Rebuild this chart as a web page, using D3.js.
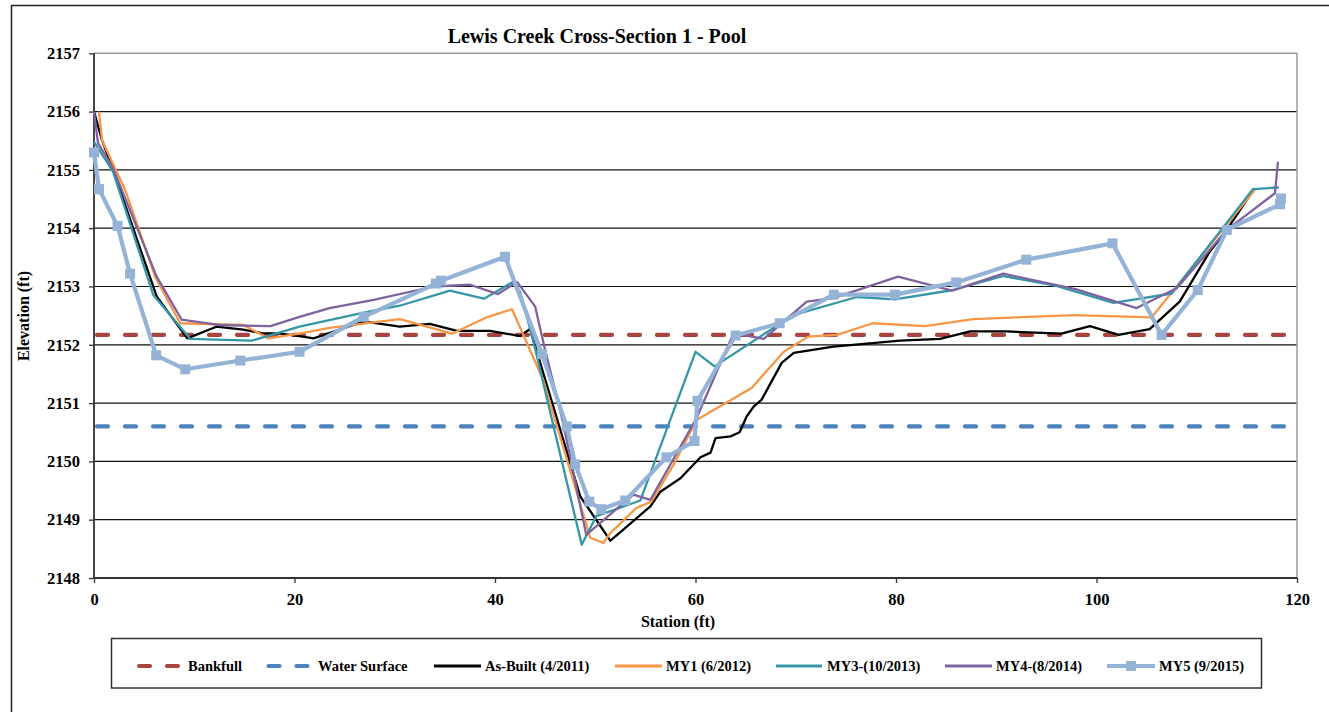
<!DOCTYPE html>
<html>
<head>
<meta charset="utf-8">
<script src="https://cdn.jsdelivr.net/npm/d3@7"></script>
<style>
  html, body { margin: 0; padding: 0; background: #fff; }
  svg { display: block; }
  text { font-family: "Liberation Serif", "Times New Roman", serif; font-weight: bold; fill: #000; }
</style>
</head>
<body>
<svg id="chart" width="1329" height="712"></svg>
<script>
// Survey of Lewis Creek Cross-Section 1 (pool), station vs elevation in feet
const titleText = "Lewis Creek Cross-Section 1 - Pool";
const xTicks = [0, 20, 40, 60, 80, 100, 120];
const yTicks = [2148, 2149, 2150, 2151, 2152, 2153, 2154, 2155, 2156, 2157];

const bankfullElev = 2152.17;
const waterSurfaceElev = 2150.60;

const asBuiltStation = [0, 0.8, 1.9, 6.25, 9.3, 12.2, 14.9, 16.7, 18.6, 20.5, 21.9, 26.9, 30.5, 33.5, 36.2, 39.5, 42.5, 43.5, 48.5, 49.3, 51.5, 52.6, 55.5, 56.5, 58.5, 60.5, 61.5, 62.0, 63.5, 64.4, 65.1, 65.8, 66.6, 68.6, 69.8, 73.75, 77.1, 80.4, 84.4, 87.4, 91.0, 96.5, 99.35, 102.2, 105.3, 108.3, 111.3, 113.0, 115.5];
const asBuiltElev = [2156.0, 2155.51, 2155.0, 2152.83, 2152.11, 2152.31, 2152.26, 2152.2, 2152.19, 2152.15, 2152.11, 2152.4, 2152.31, 2152.36, 2152.24, 2152.24, 2152.15, 2152.27, 2149.4, 2149.2, 2148.64, 2148.8, 2149.23, 2149.48, 2149.71, 2150.07, 2150.15, 2150.4, 2150.43, 2150.5, 2150.77, 2150.94, 2151.06, 2151.69, 2151.86, 2151.97, 2152.02, 2152.07, 2152.1, 2152.23, 2152.23, 2152.19, 2152.32, 2152.17, 2152.27, 2152.74, 2153.6, 2153.97, 2154.62];

const my1Station = [0.5, 0.8, 3.1, 6.1, 8.6, 14.9, 17.4, 20.5, 23.5, 30.5, 35.7, 39.3, 41.7, 44.8, 49.5, 50.8, 51.5, 54.1, 55.6, 57.8, 60.1, 65.6, 68.8, 71.25, 74.1, 77.7, 82.9, 87.7, 97.7, 105.5, 115.8];
const my1Elev = [2156.0, 2155.51, 2154.66, 2153.17, 2152.37, 2152.34, 2152.11, 2152.19, 2152.29, 2152.44, 2152.19, 2152.48, 2152.61, 2151.4, 2148.69, 2148.6, 2148.77, 2149.2, 2149.31, 2149.94, 2150.71, 2151.26, 2151.88, 2152.14, 2152.17, 2152.37, 2152.32, 2152.44, 2152.51, 2152.47, 2154.66];

const my3Station = [0, 1.9, 5.9, 9.6, 15.7, 20.5, 26.9, 30.5, 35.5, 38.9, 41.8, 42.5, 43.8, 48.65, 50.1, 54.5, 60.0, 61.9, 69.75, 76.1, 79.9, 85.7, 90.7, 96.0, 101.7, 107.5, 115.6, 118.2];
const my3Elev = [2155.48, 2154.97, 2152.86, 2152.1, 2152.07, 2152.31, 2152.55, 2152.67, 2152.93, 2152.79, 2153.08, 2152.91, 2152.08, 2148.57, 2149.06, 2149.33, 2151.88, 2151.63, 2152.51, 2152.82, 2152.78, 2152.94, 2153.18, 2153.01, 2152.72, 2152.88, 2154.67, 2154.7];

const my4Station = [0, 0.4, 1.9, 6.25, 8.75, 12.4, 17.6, 20.5, 23.5, 27.9, 33.9, 37.5, 40.3, 42.2, 44.0, 45.0, 46.8, 49.1, 53.8, 55.5, 60.1, 63.8, 66.8, 71.1, 73.75, 80.2, 85.6, 90.7, 98.0, 104.0, 108.0, 113.0, 117.8, 118.1];
const my4Elev = [2156.0, 2155.46, 2155.03, 2153.17, 2152.43, 2152.34, 2152.32, 2152.48, 2152.63, 2152.77, 2153.0, 2153.03, 2152.87, 2153.08, 2152.66, 2151.91, 2150.66, 2148.74, 2149.43, 2149.34, 2150.74, 2152.2, 2152.1, 2152.74, 2152.8, 2153.17, 2152.93, 2153.22, 2152.95, 2152.63, 2152.97, 2153.97, 2154.6, 2155.14];

const my5Station = [0, 0.5, 2.35, 3.6, 6.2, 9.1, 14.6, 20.5, 26.9, 34.1, 34.6, 41.0, 44.7, 47.15, 48.0, 49.4, 50.6, 53.0, 57.1, 59.9, 60.2, 64.0, 68.4, 73.8, 79.9, 86.0, 93.0, 101.6, 106.5, 110.1, 113.0, 118.3, 118.4];
const my5Elev = [2155.3, 2154.67, 2154.04, 2153.22, 2151.82, 2151.58, 2151.73, 2151.88, 2152.48, 2153.05, 2153.1, 2153.51, 2151.84, 2150.6, 2149.95, 2149.31, 2149.18, 2149.33, 2150.07, 2150.35, 2151.04, 2152.16, 2152.37, 2152.86, 2152.86, 2153.07, 2153.46, 2153.74, 2152.17, 2152.94, 2153.97, 2154.41, 2154.51];

const seriesNames = ["Bankfull", "Water Surface", "As-Built (4/2011)", "MY1 (6/2012)", "MY3-(10/2013)", "MY4-(8/2014)", "MY5 (9/2015)"];

const colors = {
  bankfull: "#A9443F",
  water: "#4F81BD",
  asBuilt: "#000000",
  my1: "#F79646",
  my3: "#3497A8",
  my4: "#7F62A0",
  my5: "#95B3D7"
};

const svg = d3.select("#chart");

// outer chart frame
svg.append("rect")
  .attr("x", 11.5).attr("y", 5.5)
  .attr("width", 1340).attr("height", 720)
  .attr("fill", "none").attr("stroke", "#222").attr("stroke-width", 1.5);

const plot = { left: 94, right: 1297, top: 53.3, bottom: 578 };

const x = d3.scaleLinear().domain([0, 120]).range([plot.left, plot.right]);
const y = d3.scaleLinear().domain([2148, 2157]).range([plot.bottom, plot.top]);

// horizontal gridlines
svg.append("g")
  .selectAll("line")
  .data(yTicks.filter(v => v > 2148 && v < 2157))
  .join("line")
  .attr("x1", plot.left).attr("x2", plot.right)
  .attr("y1", d => y(d)).attr("y2", d => y(d))
  .attr("stroke", "#111").attr("stroke-width", 1.2);

// plot area border (top and right)
svg.append("path")
  .attr("d", `M${plot.left},${plot.top}H${plot.right}V${plot.bottom}`)
  .attr("fill", "none").attr("stroke", "#9a9a9a").attr("stroke-width", 1.5);

// axes
const yAxis = d3.axisLeft(y).tickValues(yTicks).tickFormat(d3.format("d")).tickSize(5).tickPadding(9);
const xAxis = d3.axisBottom(x).tickValues(xTicks).tickFormat(d3.format("d")).tickSize(5).tickPadding(10);

const gy = svg.append("g").attr("transform", `translate(${plot.left},0)`).call(yAxis);
const gx = svg.append("g").attr("transform", `translate(0,${plot.bottom})`).call(xAxis);

[gx, gy].forEach(g => {
  g.select(".domain").attr("stroke", "#333").attr("stroke-width", 1.8);
  g.selectAll(".tick line").attr("stroke", "#333").attr("stroke-width", 1.3);
  g.selectAll(".tick text")
    .attr("font-family", "Liberation Serif, Times New Roman, serif")
    .attr("font-weight", "bold")
    .attr("font-size", 16.5)
    .attr("fill", "#000");
});
gx.select(".domain").attr("d", `M${plot.left},0H${plot.right}`);
gy.select(".domain").attr("d", `M0,${plot.bottom}V${plot.top}`);

// titles
svg.append("text")
  .attr("x", 597).attr("y", 43)
  .attr("text-anchor", "middle")
  .attr("font-size", 20)
  .text(titleText);

svg.append("text")
  .attr("x", 678).attr("y", 627)
  .attr("text-anchor", "middle")
  .attr("font-size", 16)
  .text("Station (ft)");

svg.append("text")
  .attr("transform", "translate(29,316) rotate(-90)")
  .attr("text-anchor", "middle")
  .attr("font-size", 16)
  .text("Elevation (ft)");

// reference levels
const dash = "11,17";
svg.append("line")
  .attr("x1", plot.left).attr("x2", plot.right)
  .attr("y1", y(bankfullElev)).attr("y2", y(bankfullElev))
  .attr("stroke", colors.bankfull).attr("stroke-width", 4.2)
  .attr("stroke-dasharray", dash).attr("stroke-linecap", "round")
  .attr("stroke-dashoffset", -3);

svg.append("line")
  .attr("x1", plot.left).attr("x2", plot.right)
  .attr("y1", y(waterSurfaceElev)).attr("y2", y(waterSurfaceElev))
  .attr("stroke", colors.water).attr("stroke-width", 4.2)
  .attr("stroke-dasharray", dash).attr("stroke-linecap", "round")
  .attr("stroke-dashoffset", -3);

// survey profiles
const line = d3.line().x(d => x(d[0])).y(d => y(d[1]));
const zip = (a, b) => a.map((v, i) => [v, b[i]]);

const profiles = [
  { data: zip(asBuiltStation, asBuiltElev), color: colors.asBuilt, width: 2.3 },
  { data: zip(my1Station, my1Elev), color: colors.my1, width: 2.3 },
  { data: zip(my3Station, my3Elev), color: colors.my3, width: 2.3 },
  { data: zip(my4Station, my4Elev), color: colors.my4, width: 2.3 }
];

profiles.forEach(p => {
  svg.append("path")
    .datum(p.data)
    .attr("d", line)
    .attr("fill", "none")
    .attr("stroke", p.color)
    .attr("stroke-width", p.width)
    .attr("stroke-linejoin", "round");
});

const my5Data = zip(my5Station, my5Elev);
svg.append("path")
  .datum(my5Data)
  .attr("d", line)
  .attr("fill", "none")
  .attr("stroke", colors.my5)
  .attr("stroke-width", 4.2)
  .attr("stroke-linejoin", "round");

svg.append("g")
  .selectAll("rect")
  .data(my5Data)
  .join("rect")
  .attr("x", d => x(d[0]) - 5)
  .attr("y", d => y(d[1]) - 5)
  .attr("width", 10).attr("height", 10)
  .attr("fill", colors.my5);

// legend
const legend = svg.append("g");
legend.append("rect")
  .attr("x", 111.5).attr("y", 638.5)
  .attr("width", 1150).attr("height", 49.5)
  .attr("fill", "#fff").attr("stroke", "#333").attr("stroke-width", 1.5);

const legendY = 666;
const legendItems = [
  { name: seriesNames[0], x0: 139, x1: 179, tx: 188, color: colors.bankfull, type: "dash" },
  { name: seriesNames[1], x0: 268.5, x1: 308.5, tx: 318, color: colors.water, type: "dash" },
  { name: seriesNames[2], x0: 434, x1: 481, tx: 485, color: colors.asBuilt, type: "line" },
  { name: seriesNames[3], x0: 615, x1: 662, tx: 666, color: colors.my1, type: "line" },
  { name: seriesNames[4], x0: 776, x1: 822, tx: 827, color: colors.my3, type: "line" },
  { name: seriesNames[5], x0: 945, x1: 992, tx: 996, color: colors.my4, type: "line" },
  { name: seriesNames[6], x0: 1107, x1: 1155, tx: 1159, color: colors.my5, type: "marker" }
];

legendItems.forEach(it => {
  const l = legend.append("line")
    .attr("x1", it.x0).attr("x2", it.x1)
    .attr("y1", legendY).attr("y2", legendY)
    .attr("stroke", it.color);
  if (it.type === "dash") {
    l.attr("stroke-width", 4.2).attr("stroke-dasharray", dash).attr("stroke-linecap", "round");
  } else if (it.type === "marker") {
    l.attr("stroke-width", 4.2);
    legend.append("rect")
      .attr("x", (it.x0 + it.x1) / 2 - 5).attr("y", legendY - 5)
      .attr("width", 10).attr("height", 10)
      .attr("fill", it.color);
  } else {
    l.attr("stroke-width", 3);
  }
  legend.append("text")
    .attr("x", it.tx).attr("y", legendY + 5)
    .attr("font-size", 14.5)
    .text(it.name);
});
</script>
</body>
</html>
